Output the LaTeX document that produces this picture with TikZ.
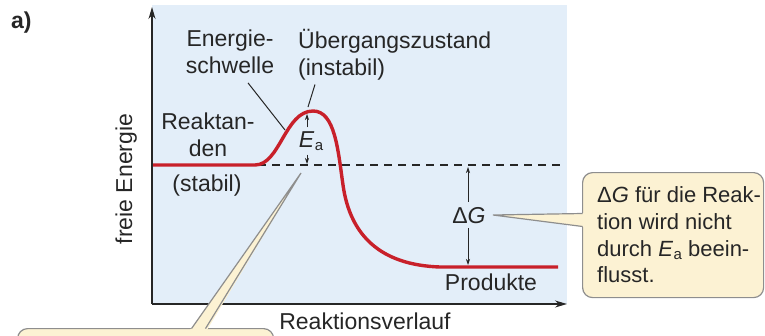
\documentclass[tikz,border=0pt]{standalone}
\usepackage{fontspec}
\setmainfont{Liberation Sans}
\usetikzlibrary{arrows.meta}

\definecolor{plotbg}{HTML}{E3EEF9}
\definecolor{curvered}{HTML}{C8202A}
\definecolor{notefill}{HTML}{FCF2D3}
\definecolor{noteline}{HTML}{8E8E8E}
\definecolor{inkgray}{HTML}{262626}

% activation energy symbol with lowered subscript
\newcommand\Eact{\textit{E}\kern0.5pt\raisebox{-3pt}{\fontsize{15}{15}\selectfont a}}
\newcommand\dG{\textup{Δ}\textit{G}}

\tikzset{
  lbl/.style={font=\fontsize{23}{26.5}\selectfont, text=inkgray, inner sep=0pt},
  axis/.style={line width=1.3pt, inkgray, -{Stealth[length=12pt,width=7pt]}},
  profile/.style={line width=3.4pt, curvered, line join=round},
  refline/.style={line width=1.3pt, inkgray, dash pattern=on 8pt off 6pt},
  dimarrow/.style={line width=0.7pt, inkgray, -{Stealth[length=6pt,width=4pt]}},
  leader/.style={line width=1pt, inkgray},
  note/.style={fill=notefill, draw=noteline, line width=1.2pt,
    rounded corners=10pt, anchor=north west, inner sep=0pt},
}

\begin{document}
\begin{tikzpicture}[x=1pt,y=-1pt]
  \useasboundingbox (0,0) rectangle (765,335);
  \clip (0,0) rectangle (765,335);

  % plot area
  \fill[plotbg] (152,5) rectangle (567,304);
  \coordinate (origin) at (152,304);
  \coordinate (ytip) at (152,7);
  \coordinate (xtip) at (567,304);

  % energy profile
  \draw[refline] (258,165) -- (562,165);
  \draw[profile] (152,165) -- (255,165)
    .. controls (280,165) and (285,111) .. (313,111)
    .. controls (335,111) and (338,150) .. (343,185)
    .. controls (350,235) and (380,265) .. (440,267) -- (558,267);

  \draw[axis] (origin) -- (ytip);
  \draw[axis] (origin) -- (xtip);

  % labels
  \node[lbl, font=\bfseries\fontsize{23}{26}\selectfont, anchor=base west] (panel) at (11,28) {a)};
  \node[lbl, rotate=90, anchor=base] (yname) at (132,179) {freie Energie};
  \node[lbl, anchor=base] (xname) at (365,329) {Reaktionsverlauf};
  \node[lbl, align=center] (thresh) at (230,52) {Energie-\\schwelle};
  \node[lbl, align=left, anchor=west] (trans) at (298,55) {Übergangszustand\\(instabil)};
  \node[lbl, align=center] (educt) at (208,135) {Reaktan-\\den};
  \node[lbl, anchor=base] (stable) at (207,191) {(stabil)};
  \node[lbl, anchor=base] (product) at (491,290) {Produkte};

  % leader lines
  \coordinate (barrier) at (285,130);
  \coordinate (peaktop) at (308,107);
  \draw[leader] ([xshift=18pt,yshift=-9pt]thresh.south) -- (barrier);
  \draw[leader] ([xshift=17pt,yshift=-4pt]trans.south west) -- (peaktop);

  % activation energy
  \node[lbl, inner ysep=4pt] (ea) at (311,141) {\Eact};
  \coordinate (peak) at (307,114);
  \coordinate (startlvl) at (307,164);
  \draw[dimarrow] (ea.north -| peak) -- (peak);
  \draw[dimarrow] (ea.south -| peak) -- (startlvl);

  % free energy change
  \node[lbl, anchor=base, inner ysep=5pt] (dg) at (469,223) {\dG};
  \coordinate (uplvl) at (468,167);
  \coordinate (lowlvl) at (468,265);
  \draw[dimarrow] (dg.north -| uplvl) -- (uplvl);
  \draw[dimarrow] (dg.south -| lowlvl) -- (lowlvl);

  % callout right
  \node[note, minimum width=181pt, minimum height=125pt] (effect) at (582,172) {};
  \coordinate (dgtip) at (493,215);
  \fill[notefill] (dgtip) -- (585,213) -- (585,227) -- cycle;
  \draw[leader, noteline, line width=1.2pt] (582.6,213.5) -- (dgtip) -- (582.6,226.5);
  \node[lbl, align=left, anchor=west, font=\fontsize{22}{26.7}\selectfont] (effecttext) at (597,235)
    {\dG{} für die Reak-\\tion wird nicht\\durch \Eact{} beein-\\flusst.};

  % callout bottom (cut off)
  \node[note, minimum width=256pt, minimum height=80pt] (hint) at (17,328) {};
  \coordinate (eatip) at (301,173);
  \fill[notefill] (eatip) -- (190,330) -- (207,330) -- cycle;
  \draw[leader, noteline, line width=1.2pt] (191.5,328.6) -- (eatip) -- (205.5,328.6);
\end{tikzpicture}
\end{document}
